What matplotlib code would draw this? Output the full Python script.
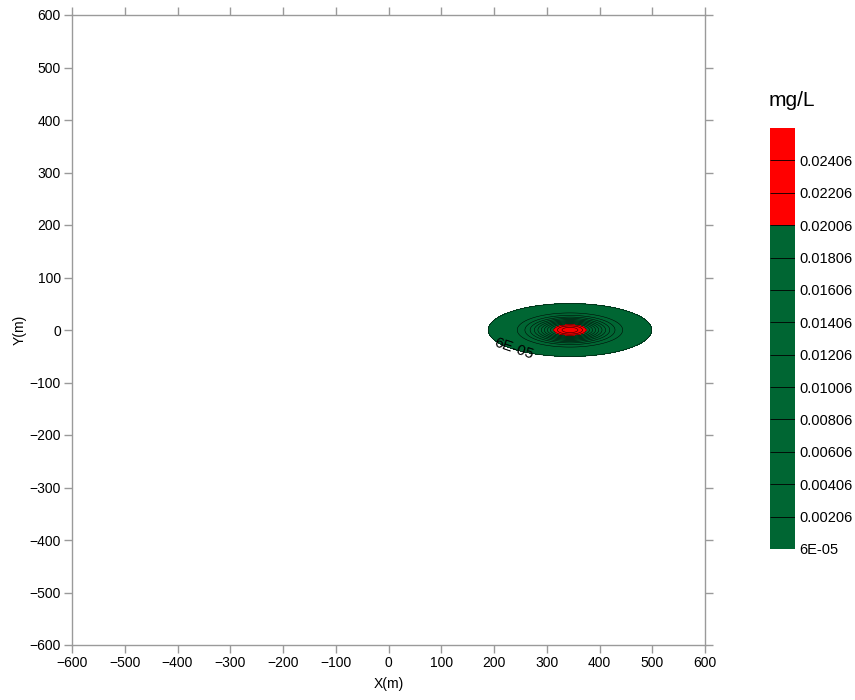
import matplotlib
import numpy as np

matplotlib.use("Agg")
import matplotlib.pyplot as plt  # noqa: E402
from matplotlib.colors import BoundaryNorm, ListedColormap  # noqa: E402

plt.rcParams["font.family"] = ["Liberation Sans", "DejaVu Sans"]

# plume (centre, peak, spread in m)
PLUME_X = 344.0
PLUME_Y = 0.0
PLUME_PEAK = 0.0255
SIGMA_X = 63.0
SIGMA_Y = 20.5

LEVELS = [0.00006, 0.00206, 0.00406, 0.00606, 0.00806, 0.01006, 0.01206,
          0.01406, 0.01606, 0.01806, 0.02006, 0.02206, 0.02406, 0.02606]
LEVEL_LABELS = ["6E-05", "0.00206", "0.00406", "0.00606", "0.00806", "0.01006",
                "0.01206", "0.01406", "0.01606", "0.01806", "0.02006",
                "0.02206", "0.02406"]
BAND_COLORS = ["#006633"] * 10 + ["#ff0000"] * 3

AXIS_TICKS = [-600, -500, -400, -300, -200, -100, 0, 100, 200, 300, 400, 500, 600]
SPINE = "#9a9a9a"

x = np.linspace(-600, 600, 1201)
y = np.linspace(-600, 600, 1201)
X, Y = np.meshgrid(x, y)
conc = PLUME_PEAK * np.exp(-((X - PLUME_X) / SIGMA_X) ** 2 - ((Y - PLUME_Y) / SIGMA_Y) ** 2)

cmap = ListedColormap(BAND_COLORS)
norm = BoundaryNorm(LEVELS, cmap.N)

fig = plt.figure(figsize=(8.55, 7.0), dpi=100)
ax = fig.add_axes([72 / 855, 55 / 700, 633 / 855, 630 / 700])

cf = ax.contourf(X, Y, conc, levels=LEVELS, cmap=cmap, norm=norm)
cs = ax.contour(X, Y, conc, levels=LEVELS, colors="black", linewidths=0.35)
ax.clabel(cs, levels=[LEVELS[0]], fmt={LEVELS[0]: "6E-05"}, inline=False,
          fontsize=11, manual=[(238, -33)])

ax.set_xlim(-600, 600)
ax.set_ylim(-600, 600)
ax.set_xticks(AXIS_TICKS)
ax.set_yticks(AXIS_TICKS)
ax.tick_params(direction="out", length=6, width=1, color=SPINE, labelsize=10,
               top=True, right=True, labeltop=False, labelright=False, pad=2)
for sp in ax.spines.values():
    sp.set_color(SPINE)
    sp.set_linewidth(1)
ax.set_xlabel("X(m)", fontsize=10, labelpad=5)
ax.set_ylabel("Y(m)", fontsize=10, labelpad=2)

cax = fig.add_axes([770 / 855, 151 / 700, 25 / 855, 421 / 700])
cb = fig.colorbar(cf, cax=cax)
cb.set_ticks(LEVELS[:-1], labels=LEVEL_LABELS)
cb.minorticks_off()
cax.yaxis.set_tick_params(which="both", length=0, width=0, labelsize=10.5, pad=3)
cb.outline.set_visible(False)
cax.hlines(LEVELS[1:-1], 0, 1, colors="black", linewidths=0.6,
           transform=cax.get_yaxis_transform())
fig.text(792 / 855, 1 - 101 / 700, "mg/L", ha="center", va="center", fontsize=15)

fig.savefig("out.png", dpi=100)
